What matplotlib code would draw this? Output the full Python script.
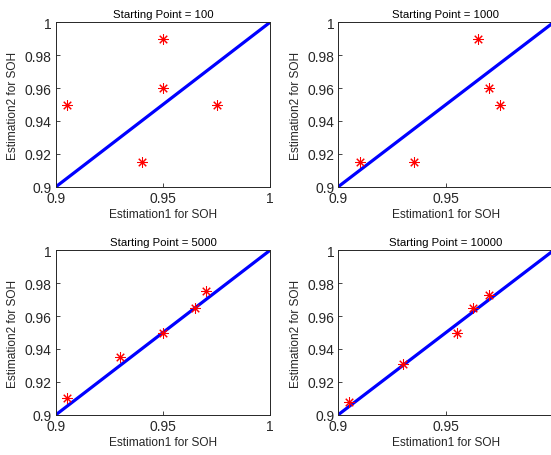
"""
SOH estimation comparison for four starting points
"""
import matplotlib
matplotlib.use("Agg")
import matplotlib.pyplot as plt

titles = ["Starting Point = 100", "Starting Point = 1000",
          "Starting Point = 5000", "Starting Point = 10000"]

est1_100 = [0.905, 0.940, 0.950, 0.950, 0.975]
est2_100 = [0.950, 0.915, 0.990, 0.960, 0.950]

est1_1000 = [0.910, 0.935, 0.965, 0.970, 0.975]
est2_1000 = [0.915, 0.915, 0.990, 0.960, 0.950]

est1_5000 = [0.905, 0.930, 0.950, 0.965, 0.970]
est2_5000 = [0.910, 0.935, 0.950, 0.965, 0.975]

est1_10000 = [0.905, 0.930, 0.955, 0.9625, 0.970]
est2_10000 = [0.908, 0.931, 0.950, 0.965, 0.973]

ref_line = [0.9, 1.0]
x_ticks = [0.9, 0.95, 1.0]
x_ticks_right = [0.9, 0.95]
y_ticks = [0.9, 0.92, 0.94, 0.96, 0.98, 1.0]

plt.rcParams['font.family'] = ['Liberation Sans', 'DejaVu Sans']

W, H = 551, 456
fig = plt.figure(figsize=(W / 100, H / 100), dpi=100)

# axes boxes in pixels: left, top, width, height
boxes = [(56, 23.3, 214, 164.4), (338.3, 23.3, 215.4, 164.4),
         (56, 251.3, 214, 164.4), (338.3, 251.3, 215.4, 164.4)]
data = [(est1_100, est2_100), (est1_1000, est2_1000),
        (est1_5000, est2_5000), (est1_10000, est2_10000)]

for i, ((l, t, w, h), (xs, ys)) in enumerate(zip(boxes, data)):
    ax = fig.add_axes([l / W, 1 - (t + h) / H, w / W, h / H])
    ax.plot(ref_line, ref_line, color='#0000ff', lw=2.3, solid_capstyle='butt')
    ax.plot(xs, ys, ls='none', marker=(8, 2, 0), color='red',
            markersize=7.5, markeredgewidth=0.75)
    ax.set_xlim(0.9, 1.0)
    ax.set_ylim(0.9, 1.0)
    ax.set_xticks(x_ticks if i % 2 == 0 else x_ticks_right)
    ax.set_xticklabels(['0.9', '0.95', '1'] if i % 2 == 0 else ['0.9', '0.95'])
    ax.set_yticks(y_ticks)
    ax.set_yticklabels(['0.9', '0.92', '0.94', '0.96', '0.98', '1'])
    ax.tick_params(direction='in', length=3, width=0.6, labelsize=10,
                   colors='#262626', pad=3)
    for s in ax.spines.values():
        s.set_linewidth(0.7)
        s.set_color('#262626')
    ax.set_title(titles[i], fontsize=8.2, color='black', pad=4)
    ax.set_xlabel("Estimation1 for SOH", fontsize=8.6, color='#262626', labelpad=2)
    ax.set_ylabel("Estimation2 for SOH", fontsize=8.6, color='#262626', labelpad=4)

fig.savefig("out.png", dpi=100)
